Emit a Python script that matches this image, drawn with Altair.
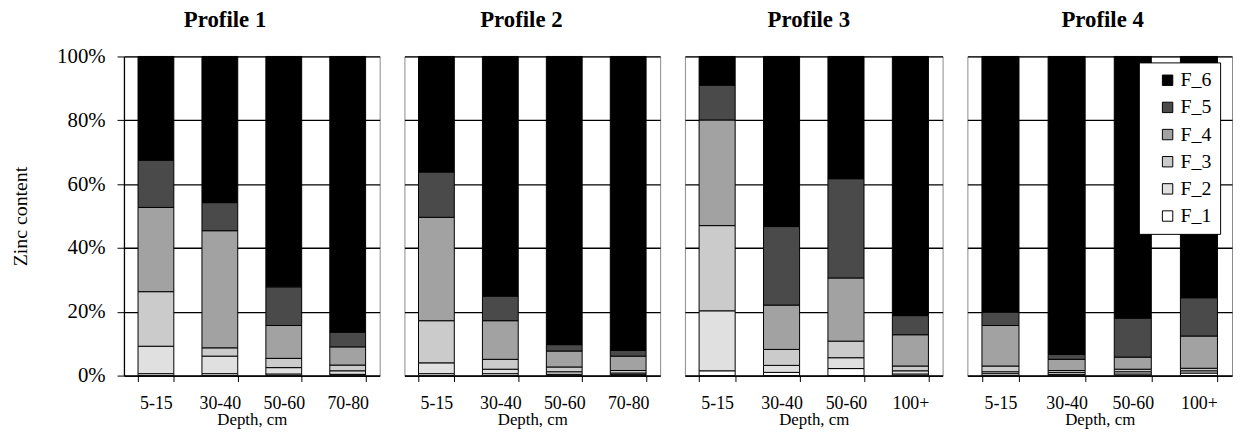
import altair as alt
import pandas as pd

FONT = "Liberation Serif"

fractions = ["F_1", "F_2", "F_3", "F_4", "F_5", "F_6"]
legend_order = ["F_6", "F_5", "F_4", "F_3", "F_2", "F_1"]
legend_colors = ["#000000", "#4a4a4a", "#a2a2a2", "#cbcbcb", "#e0e0e0", "#ffffff"]

profiles = ["Profile 1", "Profile 2", "Profile 3", "Profile 4"]
depths_1 = ["5-15", "30-40", "50-60", "70-80"]
depths_2 = ["5-15", "30-40", "50-60", "70-80"]
depths_3 = ["5-15", "30-40", "50-60", "100+"]
depths_4 = ["5-15", "30-40", "50-60", "100+"]

# percent of zinc in each fraction, one value per depth
profile_1 = {
    "F_1": [0.6, 0.6, 0.5, 0.4],
    "F_2": [8.6, 5.5, 2.0, 1.1],
    "F_3": [17.1, 2.6, 2.9, 1.8],
    "F_4": [26.4, 36.7, 10.3, 5.7],
    "F_5": [14.8, 8.8, 12.1, 4.6],
    "F_6": [32.5, 45.8, 72.2, 86.4],
}
profile_2 = {
    "F_1": [0.6, 0.6, 0.4, 0.3],
    "F_2": [3.4, 1.4, 0.8, 0.5],
    "F_3": [13.2, 3.1, 1.5, 0.8],
    "F_4": [32.4, 12.1, 5.0, 4.5],
    "F_5": [14.2, 7.7, 2.0, 1.8],
    "F_6": [36.2, 75.1, 90.3, 92.1],
}
profile_3 = {
    "F_1": [1.5, 1.0, 2.2, 0.5],
    "F_2": [18.8, 2.2, 3.4, 1.0],
    "F_3": [26.7, 5.0, 5.2, 1.5],
    "F_4": [33.1, 13.9, 19.8, 9.8],
    "F_5": [10.9, 24.6, 31.1, 6.0],
    "F_6": [9.0, 53.3, 38.3, 81.2],
}
profile_4 = {
    "F_1": [0.6, 0.4, 0.5, 0.8],
    "F_2": [0.6, 0.6, 0.7, 0.7],
    "F_3": [1.8, 0.6, 0.8, 0.8],
    "F_4": [12.7, 3.5, 3.8, 10.1],
    "F_5": [4.2, 1.5, 12.2, 12.0],
    "F_6": [80.1, 93.4, 82.0, 75.6],
}

y_ticks = [0, 0.2, 0.4, 0.6, 0.8, 1.0]


def make_df(depths, values):
    rows = []
    for k, f in enumerate(fractions):
        for d, v in zip(depths, values[f]):
            rows.append({"depth": d, "fraction": f, "order": k, "value": v})
    return pd.DataFrame(rows)


def panel(title, depths, values, width, first, legend, dx, offset):
    df = make_df(depths, values)
    if first:
        yaxis = alt.Axis(
            values=y_ticks, format=".0%", title="Zinc content",
            titleFont=FONT, titleFontSize=20, titleFontWeight="normal",
            titleColor="black", titlePadding=26,
            labelFont=FONT, labelFontSize=21, labelColor="black", labelPadding=12,
            tickSize=7, tickColor="black", domainColor="black", domainWidth=1.3,
            grid=True, gridColor="black", gridWidth=1.3,
        )
    else:
        yaxis = alt.Axis(
            values=y_ticks, labels=False, ticks=False, domain=False, title=None,
            grid=True, gridColor="black", gridWidth=1.3,
        )
    xaxis = alt.Axis(
        title="Depth, cm", titleFont=FONT, titleFontSize=17, titleFontWeight="normal",
        titleColor="black", titlePadding=-1,
        labelFont=FONT, labelFontSize=18, labelColor="black", labelAngle=0, labelPadding=13,
        tickBand="extent", tickSize=6, tickColor="black",
        domainColor="black", domainWidth=1.3, grid=False,
    )
    color = alt.Color(
        "fraction:N",
        scale=alt.Scale(domain=legend_order, range=legend_colors),
        legend=legend,
    )
    return (
        alt.Chart(df)
        .mark_bar(stroke="black", strokeWidth=1)
        .encode(
            x=alt.X("depth:N", sort=depths, axis=xaxis,
                    scale=alt.Scale(paddingInner=0.44, paddingOuter=0.22)),
            y=alt.Y("value:Q", stack="normalize", axis=yaxis,
                    scale=alt.Scale(domain=[0, 1])),
            color=color,
            order=alt.Order("order:Q", sort="ascending"),
        )
        .properties(
            width=width, height=322,
            title=alt.TitleParams(
                title, font=FONT, fontSize=23, fontWeight="bold", color="black",
                frame="group", anchor="middle", dx=dx, offset=offset,
            ),
        )
    )


legend4 = alt.Legend(
    title=None, orient="none", legendX=173, legendY=6,
    fillColor="white", strokeColor="black", padding=8,
    symbolType="square", symbolSize=110, symbolStrokeColor="black",
    symbolStrokeWidth=1, symbolOffset=11,
    labelFont=FONT, labelFontSize=20, labelColor="black", labelOffset=3,
    rowPadding=7.4,
)

chart = (
    alt.hconcat(
        panel(profiles[0], depths_1, profile_1, 258, True, None, -27, 14),
        panel(profiles[1], depths_2, profile_2, 258, False, None, -11, 24),
        panel(profiles[2], depths_3, profile_3, 260, False, None, -5, 24),
        panel(profiles[3], depths_4, profile_4, 267, False, legend4, 3, 24),
        spacing=23,
    )
    .resolve_scale(color="independent")
    .configure_view(stroke="#8a8a8a", strokeWidth=1)
    .properties(padding={"left": 2, "top": -2, "right": 0, "bottom": 0})
)

chart.save("out.html", embed_options={"renderer": "svg", "actions": False})
